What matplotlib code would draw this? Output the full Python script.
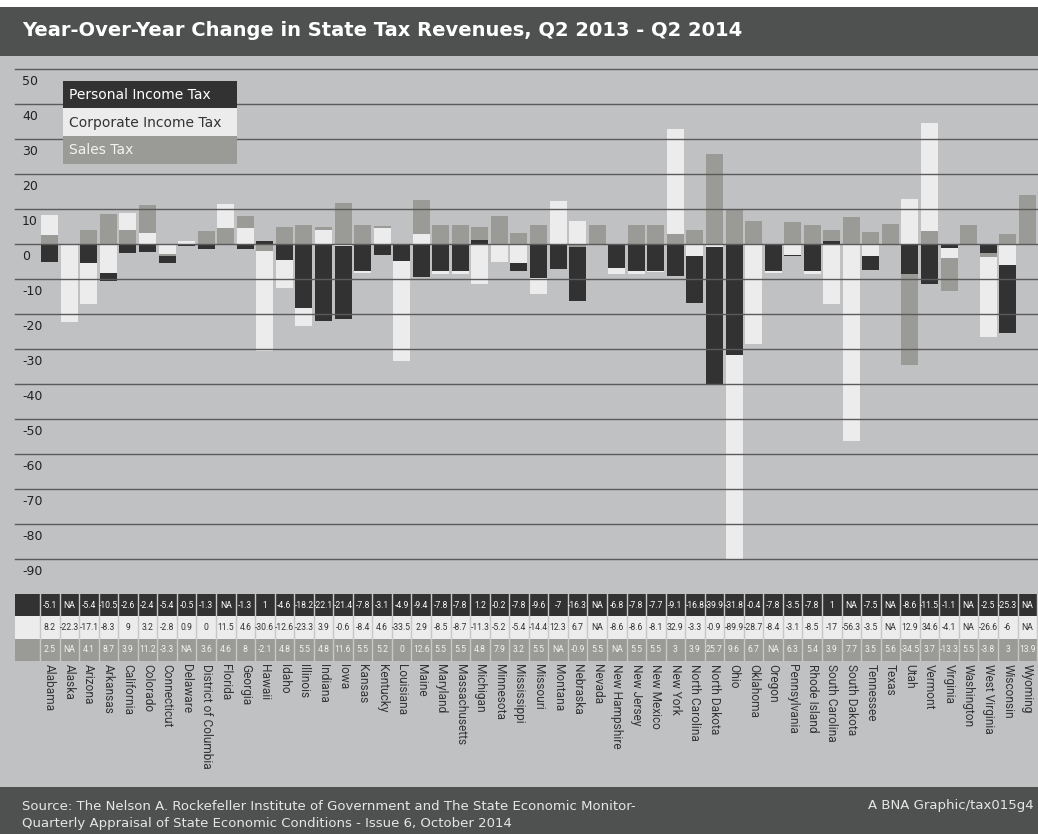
import numpy as np
import matplotlib.pyplot as plt
from matplotlib.patches import Rectangle
import matplotlib.transforms as mtransforms

NA = np.nan

states = ['Alabama', 'Alaska', 'Arizona', 'Arkansas', 'California', 'Colorado',
          'Connecticut', 'Delaware', 'District of Columbia', 'Florida', 'Georgia',
          'Hawaii', 'Idaho', 'Illinois', 'Indiana', 'Iowa', 'Kansas', 'Kentucky',
          'Louisiana', 'Maine', 'Maryland', 'Massachusetts', 'Michigan', 'Minnesota',
          'Mississippi', 'Missouri', 'Montana', 'Nebraska', 'Nevada', 'New Hampshire',
          'New Jersey', 'New Mexico', 'New York', 'North Carolina', 'North Dakota',
          'Ohio', 'Oklahoma', 'Oregon', 'Pennsylvania', 'Rhode Island',
          'South Carolina', 'South Dakota', 'Tennessee', 'Texas', 'Utah', 'Vermont',
          'Virginia', 'Washington', 'West Virginia', 'Wisconsin', 'Wyoming']

personal = [-5.1, NA, -5.4, -10.5, -2.6, -2.4, -5.4, -0.5, -1.3, NA, -1.3,
            1, -4.6, -18.2, -22.1, -21.4, -7.8, -3.1, -4.9, -9.4, -7.8, -7.8,
            1.2, -0.2, -7.8, -9.6, -7, -16.3, NA, -6.8, -7.8, -7.7, -9.1, -16.8,
            -39.9, -31.8, -0.4, -7.8, -3.5, -7.8, 1, NA, -7.5, NA, -8.6, -11.5,
            -1.1, NA, -2.5, -25.3, NA]

corporate = [8.2, -22.3, -17.1, -8.3, 9, 3.2, -2.8, 0.9, 0, 11.5, 4.6,
             -30.6, -12.6, -23.3, 3.9, -0.6, -8.4, 4.6, -33.5, 2.9, -8.5, -8.7,
             -11.3, -5.2, -5.4, -14.4, 12.3, 6.7, NA, -8.6, -8.6, -8.1, 32.9, -3.3,
             -0.9, -89.9, -28.7, -8.4, -3.1, -8.5, -17, -56.3, -3.5, NA, 12.9, 34.6,
             -4.1, NA, -26.6, -6, NA]

sales = [2.5, NA, 4.1, 8.7, 3.9, 11.2, -3.3, NA, 3.6, 4.6, 8,
         -2.1, 4.8, 5.5, 4.8, 11.6, 5.5, 5.2, 0, 12.6, 5.5, 5.5,
         4.8, 7.9, 3.2, 5.5, NA, -0.9, 5.5, NA, 5.5, 5.5, 3, 3.9,
         25.7, 9.6, 6.7, NA, 6.3, 5.4, 3.9, 7.7, 3.5, 5.6, -34.5, 3.7,
         -13.3, 5.5, -3.8, 3, 13.9]

series_names = ['Personal Income Tax', 'Corporate Income Tax', 'Sales Tax']
series = [personal, corporate, sales]
yticks = list(range(50, -100, -10))

bar_colors = ['#323232', '#ececec', '#9a9b96']
text_colors = ['#ffffff', '#333333', '#f2f2f2']
bg = '#c0c1c3'
band = '#4e5150'
narrow = ['Roboto', 'DejaVu Sans']

W, H = 1038, 834
fig = plt.figure(figsize=(W / 100, H / 100), dpi=100)
fig.patch.set_facecolor(bg)


def fbox(x0, y0, x1, y1):
    # pixel box (top-left origin) -> figure coords
    return [x0 / W, 1 - y1 / H, (x1 - x0) / W, (y1 - y0) / H]


def frect(x0, y0, x1, y1, color, z=1):
    b = fbox(x0, y0, x1, y1)
    fig.patches.append(Rectangle((b[0], b[1]), b[2], b[3], transform=fig.transFigure,
                                 facecolor=color, edgecolor='none', zorder=z))


# header and footer bands
frect(0, 0, W, 7, 'white')
frect(0, 7, W, 56, band)
fig.text(22 / W, 1 - 31 / H, 'Year-Over-Year Change in State Tax Revenues, Q2 2013 - Q2 2014',
         color='white', fontsize=14, fontweight='bold', va='center', ha='left')
frect(0, 787, W, H, band)
fig.text(22 / W, 1 - 806 / H, 'Source: The Nelson A. Rockefeller Institute of Government and The State Economic Monitor-',
         color='#e6e6e6', fontsize=9.5, va='center')
fig.text(22 / W, 1 - 824 / H, 'Quarterly Appraisal of State Economic Conditions - Issue 6, October 2014',
         color='#e6e6e6', fontsize=9.5, va='center')
fig.text(1034 / W, 1 - 806 / H, 'A BNA Graphic/tax015g4', color='#e6e6e6',
         fontsize=9.5, va='center', ha='right')

# main chart
n = len(states)
x = np.arange(n)
colw = 19.55
xl = -0.5 - (40 - 15) / colw
xr = xl + 1023 / colw

ax = fig.add_axes(fbox(15, 69, W, 561))
ax.set_facecolor('none')
ax.set_xlim(xl, xr)
ax.set_ylim(50 - 492 / 3.5, 50)
ax.axis('off')

for i in range(n):
    vals = [(abs(s[i]), k, s[i]) for k, s in enumerate(series) if not np.isnan(s[i])]
    vals.sort(reverse=True)
    for rank, (a, k, v) in enumerate(vals):
        ax.bar(x[i], v, width=0.87, color=bar_colors[k], zorder=2 + rank, linewidth=0)

for t in yticks:
    ax.axhline(t, color='#5a5a5a', lw=1.0, zorder=10, clip_on=False)

lab_tr = mtransforms.blended_transform_factory(ax.transAxes, ax.transData) + \
    mtransforms.ScaledTranslation(0, -4 / 72, fig.dpi_scale_trans)
for t in yticks:
    ax.text(7 / 1023, t, str(t), transform=lab_tr, va='top', ha='left',
            fontsize=9, color='#222222', zorder=11)

# legend
for k, name in enumerate(series_names):
    y0 = 81 + k * 27.5
    frect(63, y0, 237, y0 + 27.5, bar_colors[k], z=5)
    fig.text(69 / W, 1 - (y0 + 14) / H, name, color=text_colors[k], fontsize=10,
             va='center', ha='left', zorder=6)

# data table
tab = fig.add_axes(fbox(15, 594, W, 661))
tab.set_facecolor('none')
tab.set_xlim(xl, xr)
tab.set_ylim(3, 0)
tab.axis('off')
for k, s in enumerate(series):
    tab.add_patch(Rectangle((xl, k), xr - xl, 1, facecolor=bar_colors[k], edgecolor='none'))
    for i in range(n):
        txt = 'NA' if np.isnan(s[i]) else '%g' % s[i]
        tab.text(x[i], k + 0.5, txt, ha='center', va='center', fontsize=6.2,
                 color=text_colors[k], family=narrow)
for i in range(n + 1):
    tab.axvline(i - 0.5, color='#c8c8c8', lw=1)

name_tr = mtransforms.blended_transform_factory(tab.transData, tab.transAxes)
for i in range(n):
    tab.text(x[i], -0.04, states[i], transform=name_tr, rotation=270, ha='center',
             va='top', fontsize=8.6, color='#333333', family=narrow)

fig.savefig('out.png', dpi=100, facecolor=fig.get_facecolor())
